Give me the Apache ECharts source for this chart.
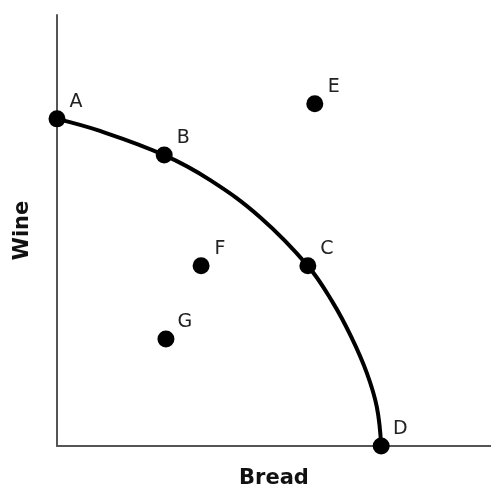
<!DOCTYPE html>
<html>
<head>
<meta charset="utf-8">
<style>
  html, body { margin: 0; padding: 0; background: #fff; }
  #chart { width: 491px; height: 495px; }
</style>
<script src="https://cdn.jsdelivr.net/npm/echarts@6/dist/echarts.min.js"></script>
</head>
<body>
<div id="chart"></div>
<script>
// labelled points
var pointNames = ['A', 'B', 'C', 'D', 'E', 'F', 'G'];
var pointX = [0, 2.47, 5.78, 7.47, 5.94, 3.32, 2.51];
var pointY = [7.59, 6.75, 4.18, 0, 7.94, 4.18, 2.48];

// production possibilities curve
var curveX = [0, 0.99, 2.47, 3.53, 4.68, 5.78, 6.36, 6.78, 7.14, 7.37, 7.47];
var curveY = [7.59, 7.31, 6.75, 6.17, 5.31, 4.18, 3.32, 2.53, 1.69, 0.90, 0];

(function(){
    var myChart = echarts.init(document.getElementById('chart'));

    var curve = curveX.map(function(x, i){ return [x, curveY[i]]; });
    var points = pointNames.map(function(n, i){ return { name: n, value: [pointX[i], pointY[i]] }; });

    var option = {
        animation: false,
        grid: { left: 57, right: 0, top: 15, bottom: 49 },
        xAxis: {
            type: 'value', min: 0, max: 10,
            name: 'Bread', nameLocation: 'middle', nameGap: 22,
            nameTextStyle: { fontFamily: 'DejaVu Sans', fontWeight: 'bold', fontSize: 21, color: '#111' },
            axisLine: { show: true, onZero: false, lineStyle: { color: '#555', width: 2 } },
            axisTick: { show: false },
            axisLabel: { show: false },
            splitLine: { show: false }
        },
        yAxis: {
            type: 'value', min: 0, max: 10,
            name: 'Wine', nameLocation: 'middle', nameGap: 24,
            nameTextStyle: { fontFamily: 'DejaVu Sans', fontWeight: 'bold', fontSize: 21, color: '#111' },
            axisLine: { show: true, onZero: false, lineStyle: { color: '#555', width: 2 } },
            axisTick: { show: false },
            axisLabel: { show: false },
            splitLine: { show: false }
        },
        series: [
            {
                type: 'line',
                data: curve,
                smooth: 0.4,
                showSymbol: false,
                lineStyle: { color: '#000', width: 4 },
                z: 2
            },
            {
                type: 'scatter',
                data: points,
                symbolSize: 17,
                itemStyle: { color: '#000', opacity: 1 },
                label: {
                    show: true,
                    formatter: '{b}',
                    position: 'inside',
                    offset: [19, -17],
                    fontFamily: 'DejaVu Sans',
                    fontSize: 19,
                    color: '#222'
                },
                z: 3
            }
        ]
    };
    myChart.setOption(option);
})();
</script>
</body>
</html>
